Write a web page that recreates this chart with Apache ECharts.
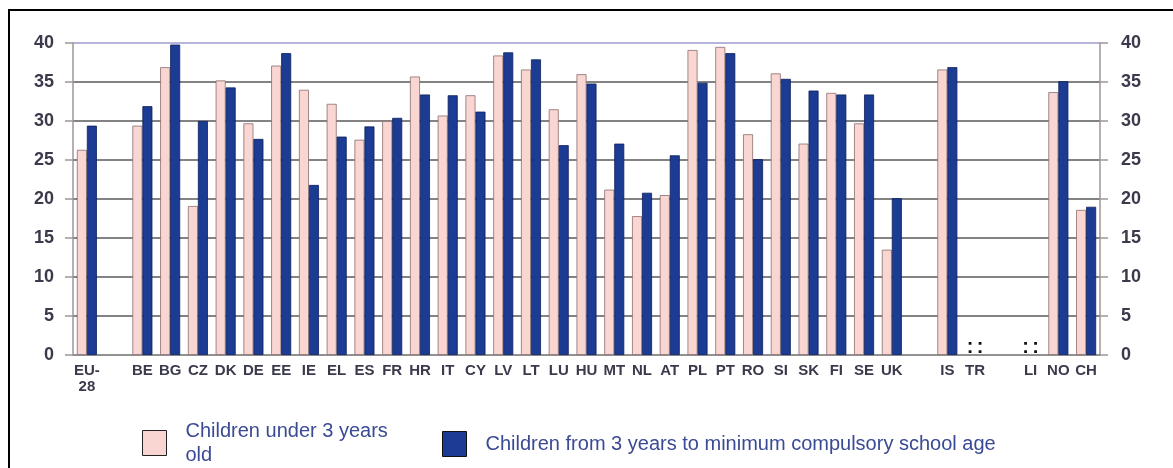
<!DOCTYPE html>
<html>
<head>
<meta charset="utf-8">
<script src="https://cdn.jsdelivr.net/npm/echarts@6/dist/echarts.min.js"></script>
<style>
  html, body { margin: 0; padding: 0; background: #fff; }
  #frame { position: absolute; left: 8px; top: 9px; width: 1165px; height: 459px;
           border-left: 2px solid #000; border-top: 2px solid #000; box-sizing: border-box; }
  #chart { position: absolute; left: 0; top: 0; width: 1173px; height: 468px; }
</style>
</head>
<body>
<div id="frame"></div>
<div id="chart"></div>
<script>
// Categories ('' = empty spacer slots)
const categories = ['EU-\n28', '', 'BE', 'BG', 'CZ', 'DK', 'DE', 'EE', 'IE', 'EL', 'ES', 'FR', 'HR', 'IT', 'CY',
  'LV', 'LT', 'LU', 'HU', 'MT', 'NL', 'AT', 'PL', 'PT', 'RO', 'SI', 'SK', 'FI', 'SE', 'UK', '', 'IS', 'TR', '',
  'LI', 'NO', 'CH'];
// Countries with data not available (shown as ':')
const notAvailable = ['TR', 'LI'];
// Children under 3 years old
const under3 = [26.3, null, 29.4, 36.9, 19.1, 35.2, 29.7, 37.1, 34.0, 32.2, 27.6, 30.0, 35.7, 30.7, 33.3,
  38.4, 36.6, 31.5, 36.0, 21.2, 17.8, 20.5, 39.1, 39.5, 28.3, 36.1, 27.1, 33.6, 29.7, 13.5, null, 36.6, null, null,
  null, 33.7, 18.6];
// Children from 3 years to minimum compulsory school age
const from3 = [29.4, null, 31.9, 39.8, 30.0, 34.3, 27.7, 38.7, 21.8, 28.0, 29.3, 30.4, 33.4, 33.3, 31.2,
  38.8, 37.9, 26.9, 34.8, 27.1, 20.8, 25.6, 34.9, 38.7, 25.1, 35.4, 33.9, 33.4, 33.4, 20.1, null, 36.9, null, null,
  null, 35.1, 19.0];
const yTicks = [0, 5, 10, 15, 20, 25, 30, 35, 40];
const seriesNames = ['Children under 3 years\nold', 'Children from 3 years to minimum compulsory school age'];

function buildData(values) {
  return values.map((v, i) => {
    if (notAvailable.includes(categories[i])) {
      return {
        value: 0,
        itemStyle: { color: 'transparent', borderWidth: 0 },
        label: { show: true, formatter: ':', position: 'top', distance: -2,
                 fontSize: 20, fontWeight: 'bold', color: '#111', fontFamily: 'Liberation Sans' }
      };
    }
    return v;
  });
}

const axisGray = '#9e9696';
const labelColor = '#3a3a4c';
const chart = echarts.init(document.getElementById('chart'), null, { renderer: 'canvas' });
const yAxisCommon = {
  type: 'value', min: yTicks[0], max: yTicks[yTicks.length - 1], interval: 5,
  axisLine: { show: true, lineStyle: { color: axisGray, width: 1.5 } },
  axisTick: { show: true, length: 8, lineStyle: { color: axisGray, width: 1.5 } },
  axisLabel: { fontSize: 18, fontWeight: 'bold', color: labelColor, fontFamily: 'Liberation Sans' }
};
chart.setOption({
  animation: false,
  textStyle: { fontFamily: 'Liberation Sans' },
  grid: { left: 73, right: 73, top: 43, bottom: 113, containLabel: false },
  legend: [
    {
      data: [seriesNames[0]], left: 137, top: 414, orient: 'horizontal',
      icon: 'rect', itemWidth: 24, itemHeight: 25,
      itemStyle: { borderColor: '#222', borderWidth: 1 },
      textStyle: { fontSize: 20, color: '#3b4a94', lineHeight: 24, padding: [0, 0, 0, 14], fontFamily: 'Liberation Sans' },
      selectedMode: false
    },
    {
      data: [seriesNames[1]], left: 437, top: 426, orient: 'horizontal',
      icon: 'rect', itemWidth: 24, itemHeight: 25,
      itemStyle: { borderColor: '#111', borderWidth: 1 },
      textStyle: { fontSize: 20, color: '#3b4a94', padding: [0, 0, 0, 14], fontFamily: 'Liberation Sans' },
      selectedMode: false
    }
  ],
  xAxis: {
    type: 'category', data: categories, boundaryGap: true,
    axisLine: { show: true, lineStyle: { color: '#8a8a8a', width: 1.5 } },
    axisTick: { show: false },
    axisLabel: { interval: 0, margin: 8, fontSize: 15, fontWeight: 'bold', color: labelColor,
                 lineHeight: 16, fontFamily: 'Liberation Sans' },
    splitLine: { show: false }
  },
  yAxis: [
    Object.assign({}, yAxisCommon, {
      position: 'left',
      axisLabel: Object.assign({}, yAxisCommon.axisLabel, { margin: 19 }),
      splitLine: { show: true, lineStyle: { color: ['#8a8a8a', '#5a5a5a', '#5a5a5a', '#5a5a5a', '#5a5a5a',
        '#5a5a5a', '#5a5a5a', '#5a5a5a', '#9c9ccc'], width: 1.5 } }
    }),
    Object.assign({}, yAxisCommon, {
      position: 'right',
      axisLabel: Object.assign({}, yAxisCommon.axisLabel, { margin: 21 }),
      splitLine: { show: false }
    })
  ],
  series: [
    {
      name: seriesNames[0], type: 'bar', data: buildData(under3), barWidth: 10, barGap: '0%',
      itemStyle: { color: '#f9d6d1', borderColor: '#8a6d6d', borderWidth: 0.8 }
    },
    {
      name: seriesNames[1], type: 'bar', data: buildData(from3), barWidth: 10, barGap: '0%',
      itemStyle: { color: '#1b3c92', borderColor: '#0e1f5c', borderWidth: 0.8 }
    }
  ]
});
</script>
</body>
</html>
